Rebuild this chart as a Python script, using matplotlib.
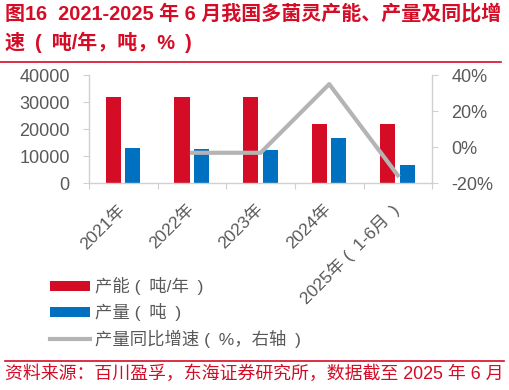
import matplotlib
matplotlib.use("Agg")
import numpy as np
import matplotlib.pyplot as plt
import matplotlib.transforms as mtransforms
from matplotlib.patches import Patch
from matplotlib.lines import Line2D

plt.rcParams['font.family'] = ['Liberation Sans', 'Noto Sans CJK SC']

# ── data ──────────────────────────────────────────────
years = ["2021年", "2022年", "2023年", "2024年", "2025年 (\u20021-6月\u2002)"]
capacity = [32000, 32000, 32000, 22000, 22000]      # 产能（吨/年）
output = [13200, 12800, 12500, 16700, 7000]          # 产量（吨）
yoy = [np.nan, -3.0, -3.0, 35.0, -15.5]              # 产量同比增速（%）

RED = "#d50c26"
BLUE = "#0070c0"
GREY = "#b4b4b4"
TXT = "#595959"

fig = plt.figure(figsize=(5.09, 3.9), dpi=100)
ax = fig.add_axes([0.175, 0.5295, 0.674, 0.278])
ax2 = ax.twinx()

x = np.arange(len(years))
w = 0.22
ax.bar(x - 0.145, capacity, w, color=RED, zorder=2)
ax.bar(x + 0.138, output, w, color=BLUE, zorder=2)
ax2.plot(x, yoy, color=GREY, lw=3, zorder=3)

ax.set_xlim(-0.5, len(years) - 0.5)
ax.set_ylim(0, 40000)
ax.set_yticks([0, 10000, 20000, 30000, 40000])
ax2.set_ylim(-20, 40)
ax2.set_yticks([-20, 0, 20, 40])
ax2.set_yticklabels(["-20%", "0%", "20%", "40%"])

ax.set_xticks(np.arange(-0.5, len(years), 1.0), minor=False)
ax.set_xticklabels([])
ax.set_xticks(x, minor=True)
ax.set_xticklabels(years, minor=True, rotation=45, ha="right", va="top",
                   fontsize=12.5, color=TXT)
ax.tick_params(axis="x", which="minor", length=0, pad=13)
ax.tick_params(axis="x", which="major", length=4, color="#d0d0d0", direction="out")
shift = mtransforms.ScaledTranslation(5 / 100, 0, fig.dpi_scale_trans)
for lbl in ax.xaxis.get_minorticklabels():
    lbl.set_transform(lbl.get_transform() + shift)

for a in (ax, ax2):
    a.spines["top"].set_visible(False)
    for s in ("left", "right", "bottom"):
        a.spines[s].set_color("#d0d0d0")
        a.spines[s].set_linewidth(1.0)
    a.tick_params(axis="y", labelsize=13, labelcolor=TXT, color="#d0d0d0",
                  length=4, pad=10)
ax.spines["right"].set_visible(False)
ax2.spines["left"].set_visible(False)
ax2.spines["bottom"].set_visible(False)

# ── legend ────────────────────────────────────────────
handles = [
    Patch(facecolor=RED),
    Patch(facecolor=BLUE),
    Line2D([0], [0], color=GREY, lw=3),
]
labels = ["产能 (\u2002吨/年\u2002)", "产量 (\u2002吨\u2002)",
          "产量同比增速 (\u2002%，右轴\u2002)"]
fig.legend(handles, labels, loc="upper left", bbox_to_anchor=(0.098, 0.29),
           frameon=False, fontsize=12.5, labelcolor=TXT, handlelength=2.3,
           handleheight=0.5, handletextpad=0.3, labelspacing=0.48,
           borderaxespad=0, borderpad=0)

# ── title / source ────────────────────────────────────
fig.text(0.01, 0.99, "图16  2021-2025 年 6 月我国多菌灵产能、产量及同比增\n速\u2002(\u2002吨/年，吨，%\u2002)",
         color=RED, fontsize=14.4, fontweight="bold", va="top", ha="left",
         linespacing=1.45)
fig.add_artist(Line2D([0.0, 0.985], [0.841, 0.841], color=RED, lw=1.2))
fig.add_artist(Line2D([0.01, 0.99], [0.075, 0.075], color=RED, lw=1.2))
fig.text(0.01, 0.042, "资料来源：百川盈孚，东海证券研究所，数据截至 2025 年 6 月",
         color=RED, fontsize=12.9, va="center", ha="left")

fig.savefig("out.png", dpi=100)
